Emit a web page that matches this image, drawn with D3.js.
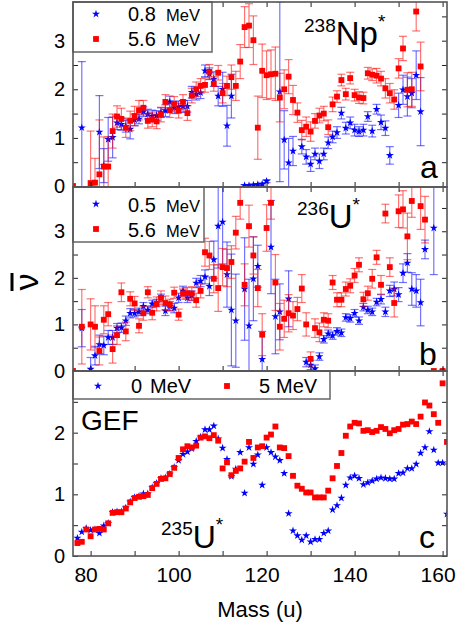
<!DOCTYPE html>
<html><head><meta charset="utf-8">
<script src="https://cdn.jsdelivr.net/npm/d3@7"></script>
<style>
body{margin:0;background:#fff}
svg{display:block}
text{font-family:"Liberation Sans",Arial,sans-serif;fill:#000}
</style>
</head><body>
<svg id="chart" width="458" height="625"></svg>
<script>
// ---------- DATA: [mass, nu-bar, error] ----------
// Panel a: 238Np*
const npLow = [[78,1.21,1.36],[82,1.12,0.75],[83,0.43,0.35],[84,0.97,0.45],[85,1.01,0.42],[86,1.31,0.14],[87,1.28,0.12],[88,1.24,0.12],[89,1.18,0.2],[90,1.37,0.12],[91,1.39,0.1],[92,1.54,0.1],[93,1.49,0.1],[94,1.45,0.12],[95,1.46,0.1],[96,1.52,0.1],[97,1.56,0.12],[98,1.74,0.12],[99,1.62,0.12],[100,1.64,0.12],[101,1.65,0.12],[102,1.65,0.12],[103,1.94,0.12],[104,1.90,0.12],[105,1.93,0.12],[106,2.38,0.12],[107,2.32,0.12],[108,2.21,0.15],[109,1.86,0.2],[110,2.00,0.35],[111,1.25,0.42],[112,1.86,0.45],[115,0.02,0.02],[116,0.02,0.02],[117,0.03,0.02],[118,0.04,0.02],[119,0.05,0.02],[120,0.11,0.03],[123,1.95,1.85],[124,0.96,0.6],[125,0.49,0.5],[126,0.73,0.3],[128,0.82,0.15],[129,0.61,0.15],[130,0.46,0.15],[131,0.67,0.12],[132,0.52,0.15],[133,0.67,0.12],[134,0.90,0.12],[135,1.02,0.12],[136,1.11,0.12],[137,1.51,0.12],[138,1.20,0.12],[139,1.31,0.12],[140,1.16,0.12],[141,1.13,0.1],[142,1.16,0.12],[143,1.44,0.1],[144,1.14,0.12],[145,1.59,0.1],[146,1.32,0.15],[147,1.20,0.15],[148,0.64,0.18],[150,1.67,0.25],[151,1.99,0.3],[152,1.85,0.4],[153,1.92,0.3],[154,2.29,0.5],[155,1.54,0.7]];
const npHigh = [[76,0.01,0],[80,0.07,1.07],[81,0.08,0.5],[82,0.25,1.12],[83,0.41,0.61],[84,0.41,0.61],[85,1.14,0.35],[86,1.44,0.22],[87,1.39,0.22],[88,1.21,0.2],[89,1.35,0.2],[90,1.45,0.2],[91,1.57,0.2],[92,1.62,0.15],[93,1.35,0.15],[94,1.38,0.15],[95,1.34,0.15],[96,1.48,0.15],[97,1.74,0.15],[98,1.57,0.15],[99,1.70,0.15],[100,1.56,0.15],[101,1.74,0.15],[102,1.51,0.15],[103,1.87,0.15],[104,2.00,0.15],[105,2.07,0.15],[106,2.09,0.15],[107,2.36,0.15],[108,2.11,0.15],[109,2.34,0.15],[110,1.92,0.2],[111,2.07,0.2],[112,2.25,0.25],[113,2.07,0.3],[114,2.57,0.35],[115,3.28,0.42],[116,3.31,0.45],[117,3.01,0.5],[118,1.21,0.65],[119,2.38,0.55],[120,2.29,0.5],[121,2.31,0.5],[122,2.32,0.55],[123,1.83,0.5],[124,2.00,0.4],[125,2.26,0.35],[126,1.78,0.3],[127,1.52,0.2],[128,1.16,0.2],[129,1.23,0.2],[130,1.13,0.2],[131,1.35,0.15],[132,1.46,0.15],[133,1.50,0.15],[134,1.22,0.15],[135,1.69,0.15],[136,1.85,0.12],[137,2.19,0.12],[138,1.90,0.12],[139,2.23,0.12],[140,1.88,0.12],[141,1.83,0.12],[142,1.82,0.12],[143,2.33,0.12],[144,2.30,0.12],[145,2.28,0.15],[146,2.22,0.15],[147,2.02,0.2],[148,1.92,0.2],[149,1.79,0.2],[150,2.43,0.2],[151,2.84,0.25],[152,1.99,0.35],[153,2.00,0.35],[154,3.60,0.4],[155,2.47,0.5]];
// Panel b: 236U*
const uLow = [[78,0.92,0.4],[80,0.04,0.25],[81,0.33,0.2],[82,0.57,0.2],[83,0.55,0.2],[84,0.72,0.15],[85,0.72,0.15],[86,0.92,0.1],[87,0.93,0.1],[88,1.08,0.1],[89,1.24,0.1],[90,1.24,0.08],[91,1.27,0.08],[92,1.39,0.08],[93,1.31,0.08],[94,1.44,0.08],[95,1.46,0.08],[96,1.57,0.08],[97,1.29,0.1],[98,1.39,0.1],[99,1.35,0.1],[100,1.57,0.1],[101,1.72,0.1],[102,1.57,0.1],[103,1.62,0.1],[104,1.89,0.1],[105,1.93,0.12],[106,2.02,0.15],[107,1.82,0.2],[108,2.39,0.4],[109,3.11,0.9],[110,3.20,0.9],[111,2.07,0.7],[112,1.31,1.2],[113,1.08,1.0],[115,1.76,1.1],[116,0.97,1.0],[117,1.98,0.9],[118,2.25,0.45],[119,0.25,0.6],[121,2.66,1.0],[122,1.17,0.8],[123,1.27,0.6],[125,1.55,0.6],[129,0.19,0.1],[130,0.13,0.1],[131,0.05,0.08],[132,0.31,0.08],[133,0.68,0.08],[134,0.80,0.08],[135,0.76,0.08],[136,0.85,0.08],[137,0.82,0.08],[138,1.15,0.08],[139,1.13,0.08],[140,1.24,0.08],[141,1.08,0.08],[142,1.37,0.08],[143,1.31,0.08],[144,1.27,0.08],[145,1.48,0.08],[146,1.54,0.1],[147,1.27,0.1],[148,1.72,0.12],[149,1.76,0.15],[150,1.64,0.15],[151,2.10,0.2],[152,2.32,0.2],[153,1.76,0.35],[154,1.72,0.35],[155,1.47,0.5],[156,2.61,0.2],[158,3.07,1.0],[160,0.0,0]];
const uHigh = [[76,0.0,0],[78,0.95,0.8],[80,1.0,0.55],[81,0.95,0.45],[82,0.43,0.3],[83,1.10,0.3],[84,1.22,0.25],[85,0.47,0.3],[86,0.77,0.2],[87,1.69,0.2],[88,0.85,0.2],[89,1.55,0.15],[90,1.45,0.15],[91,0.97,0.15],[92,1.24,0.15],[93,1.69,0.12],[94,1.25,0.15],[95,1.44,0.15],[96,1.57,0.15],[97,1.46,0.15],[98,1.42,0.12],[99,1.68,0.12],[100,1.21,0.12],[101,1.66,0.12],[102,1.67,0.12],[103,1.66,0.15],[104,1.52,0.15],[105,1.72,0.15],[106,2.55,0.3],[107,2.48,0.3],[108,1.98,0.3],[109,1.78,0.5],[110,2.23,0.4],[111,2.21,0.4],[112,2.34,0.35],[113,2.97,0.35],[114,3.61,0.35],[115,1.85,0.45],[116,3.11,0.45],[117,2.48,0.4],[118,1.78,0.4],[119,0.78,0.45],[120,3.07,0.5],[121,3.61,0.35],[122,1.90,0.6],[123,0.95,0.5],[124,1.12,0.4],[125,1.24,0.4],[126,1.19,0.3],[127,1.33,0.25],[128,1.77,0.3],[129,1.00,0.25],[130,0.26,0.15],[131,0.92,0.2],[132,0.83,0.2],[133,1.10,0.15],[134,1.08,0.15],[135,1.90,0.15],[136,1.53,0.15],[137,1.53,0.15],[138,1.76,0.15],[139,1.83,0.15],[140,2.05,0.15],[141,2.28,0.15],[142,1.54,0.15],[143,1.67,0.15],[144,1.98,0.2],[145,2.44,0.15],[146,1.85,0.2],[147,3.38,0.2],[148,2.23,0.2],[149,1.46,0.3],[150,3.43,0.35],[151,3.47,0.4],[152,2.89,0.5],[153,3.65,0.35],[155,3.54,0.5],[156,3.25,0.5],[158,0.0,0],[160,0.0,0]];
// Panel c: GEF 235U*
const gefMass = [77,78,79,80,81,82,83,84,85,86,87,88,89,90,91,92,93,94,95,96,97,98,99,100,101,102,103,104,105,106,107,108,109,110,111,112,113,114,115,116,117,118,119,120,121,122,123,124,125,126,127,128,129,130,131,132,133,134,135,136,137,138,139,140,141,142,143,144,145,146,147,148,149,150,151,152,153,154,155,156,157,158,159,160,161];
const gef0 = [0.29,0.39,0.45,0.42,0.43,0.37,0.49,0.53,0.71,0.72,0.72,0.78,0.88,0.95,0.97,1.01,1.01,1.11,1.18,1.26,1.27,1.33,1.44,1.55,1.65,1.69,1.74,1.86,1.93,2.05,2.05,2.11,1.90,1.75,1.57,1.29,1.41,1.68,1.02,1.76,1.49,1.64,1.15,1.76,1.68,1.61,1.55,1.34,0.69,0.41,0.33,0.26,0.33,0.23,0.27,0.27,0.37,0.41,0.75,0.82,0.94,1.15,1.27,1.30,1.26,1.16,1.19,1.22,1.25,1.27,1.26,1.25,1.25,1.34,1.35,1.42,1.42,1.49,1.67,1.76,2.02,1.72,1.51,1.51,0.68];
const gef5 = [0.21,0.23,0.43,0.32,0.43,0.44,0.43,0.53,0.70,0.71,0.71,0.77,0.87,0.94,0.96,0.97,0.99,1.10,1.17,1.25,1.26,1.33,1.43,1.59,1.73,1.78,1.76,1.79,1.92,1.94,1.91,1.96,1.87,1.42,1.52,1.31,1.38,1.42,1.53,1.85,1.59,1.76,1.78,1.92,1.97,2.10,1.76,1.75,1.62,1.30,1.14,1.09,1.03,1.03,0.95,0.95,0.95,1.06,1.26,1.46,1.67,1.95,2.10,2.16,2.15,2.03,2.04,2.01,2.03,2.09,2.06,1.99,2.04,2.06,2.13,2.14,2.18,2.14,2.26,2.49,2.44,2.30,2.16,2.80,1.85];
const xTicks = [80,90,100,110,120,130,140,150,160];
const xLabels = [80,100,120,140,160];

// ---------- DRAW ----------
const svg = d3.select("#chart");
const X0 = 73, X1 = 447;
const x = d3.scaleLinear().domain([76,161]).range([X0,X1]);
const BLUE = "#0000ff", RED = "#ff0000";
const star = d3.symbol().type(d3.symbolStar).size(20)();
const square = d3.symbol().type(d3.symbolSquare).size(34)();

const panels = [
  {key:"a", y:d3.scaleLinear().domain([0,3.8]).range([186.5,1.8]), top:2, bot:187, maxTick:3.5, labels:[0,1,2,3]},
  {key:"b", y:d3.scaleLinear().domain([0,3.95]).range([371,187]), top:187, bot:371, maxTick:3.5, labels:[0,1,2,3]},
  {key:"c", y:d3.scaleLinear().domain([0,3]).range([556,371]), top:371, bot:556, maxTick:2.5, labels:[0,1,2]}
];

const defs = svg.append("defs");
panels.forEach(p=>{
  defs.append("clipPath").attr("id","clip"+p.key).append("rect")
    .attr("x",X0).attr("y",p.top).attr("width",X1-X0).attr("height",p.bot-p.top);
});

function drawErr(g, y, data, color){
  const eb = g.append("g").attr("stroke",color).attr("stroke-width",1.2).attr("stroke-opacity",0.55).attr("fill","none");
  data.filter(d=>d[2]>0).forEach(d=>{
    const cx = x(d[0]), ya = y(d[1]-d[2]), yb = y(d[1]+d[2]);
    eb.append("line").attr("x1",cx).attr("x2",cx).attr("y1",ya).attr("y2",yb);
    eb.append("line").attr("x1",cx-4).attr("x2",cx+4).attr("y1",ya).attr("y2",ya);
    eb.append("line").attr("x1",cx-4).attr("x2",cx+4).attr("y1",yb).attr("y2",yb);
  });
}
function drawMarks(g, y, data, color, shape){
  g.append("g").selectAll("path").data(data).join("path")
    .attr("d",shape).attr("fill",color)
    .attr("transform",d=>`translate(${x(d[0])},${y(d[1])})`);
}

// panel a & b data
[[panels[0], npLow, npHigh],[panels[1], uLow, uHigh]].forEach(([p,lo,hi])=>{
  const g = svg.append("g").attr("clip-path",`url(#clip${p.key})`);
  drawErr(g,p.y,lo,BLUE);
  drawMarks(g,p.y,lo,BLUE,star);
  drawErr(g,p.y,hi,RED);
  drawMarks(g,p.y,hi,RED,square);
});
// panel c
{
  const p = panels[2];
  const g = svg.append("g").attr("clip-path","url(#clipc)");
  const d0 = gefMass.map((m,i)=>[m,gef0[i]]);
  const d5 = gefMass.map((m,i)=>[m,gef5[i]]);
  drawMarks(g,p.y,d0,BLUE,star);
  drawMarks(g,p.y,d5,RED,square);
}

// axes & frames
panels.forEach(p=>{
  const ticksY = d3.range(0,p.maxTick+0.01,0.5);
  const styleAxis = sel=>{
    sel.select(".domain").remove();
    sel.selectAll(".tick line").attr("stroke","#222").attr("stroke-width",1);
    sel.selectAll("text").attr("font-family","Liberation Sans, Arial, sans-serif").attr("fill","#000");
  };
  svg.append("g").attr("transform",`translate(${X0},0)`)
    .call(d3.axisLeft(p.y).tickValues(ticksY).tickSize(-5).tickPadding(8)
      .tickFormat(d=>p.labels.includes(d)?d:""))
    .call(styleAxis).selectAll("text").attr("font-size",20);
  svg.append("g").attr("transform",`translate(${X1},0)`)
    .call(d3.axisRight(p.y).tickValues(ticksY).tickSize(-5).tickFormat(""))
    .call(styleAxis);
  svg.append("g").attr("transform",`translate(0,${p.bot})`)
    .call(d3.axisBottom(x).tickValues(xTicks).tickSize(-5).tickPadding(11)
      .tickFormat(d=>(p.key==="c" && xLabels.includes(d))?d:""))
    .call(styleAxis).selectAll("text").attr("font-size",21).attr("dx",-5);
  svg.append("g").attr("transform",`translate(0,${p.top})`)
    .call(d3.axisTop(x).tickValues(xTicks).tickSize(-5).tickFormat(""))
    .call(styleAxis);
});

// legends (white boxes)
function legendBox(x0,y0,x1,y1){
  svg.append("rect").attr("x",x0).attr("y",y0).attr("width",x1-x0).attr("height",y1-y0)
    .attr("fill","#fff").attr("stroke","#666").attr("stroke-width",1.5);
}
function legItem(sx,sy,shape,color,tx,ty,num,unit,numSize,unitSize,unitX){
  svg.append("path").attr("d",shape).attr("fill",color).attr("transform",`translate(${sx},${sy})`);
  const t = svg.append("text").attr("x",tx).attr("y",ty);
  t.append("tspan").attr("font-size",numSize).text(num);
  t.append("tspan").attr("x",unitX).attr("font-size",unitSize).text(unit);
}
legendBox(73,2,212,52);
legItem(96,14,star,BLUE,128,21,"0.8","MeV",20,16.5,166);
legItem(96,39,square,RED,128,46,"5.6","MeV",20,16.5,166);
legendBox(73,187,204,242);
legItem(96,204,star,BLUE,128,212,"0.5","MeV",20,16.5,166);
legItem(96,229,square,RED,128,237,"5.6","MeV",20,16.5,166);
legendBox(73,371,330,399);
legItem(98,386,star,BLUE,131,393,"0","MeV",20,20,150);
legItem(227,386,square,RED,259,393,"5","MeV",20,20,276);

// frames
panels.forEach(p=>{
  svg.append("rect").attr("x",X0).attr("y",p.top).attr("width",X1-X0).attr("height",p.bot-p.top)
    .attr("fill","none").attr("stroke","#555").attr("stroke-width",1.6);
});

// nuclide labels
function nucl(xs, base, sup, main, supSize, mainSize){
  const t = svg.append("text").attr("x",xs).attr("y",base);
  t.append("tspan").attr("font-size",supSize).attr("dy",-13).text(sup);
  t.append("tspan").attr("font-size",mainSize).attr("dy",13).text(main);
  t.append("tspan").attr("font-size",supSize).attr("dy",-17).text("*");
}
nucl(304,45,"238","Np",19,33);
nucl(297,228,"236","U",19,33);
nucl(161,548,"235","U",19,32);
svg.append("text").attr("x",81).attr("y",430).attr("font-size",28).text("GEF");
svg.append("text").attr("x",420).attr("y",178).attr("font-size",32).text("a");
svg.append("text").attr("x",419).attr("y",365).attr("font-size",32).text("b");
svg.append("text").attr("x",419).attr("y",548).attr("font-size",32).text("c");

// axis titles
svg.append("text").attr("x",260).attr("y",617).attr("text-anchor","middle").attr("font-size",22).text("Mass (u)");
const yl = svg.append("g").attr("transform","translate(38,282) rotate(-90)");
yl.append("text").attr("x",0).attr("y",0).attr("text-anchor","middle").attr("font-size",34).text("ν");
yl.append("line").attr("x1",-9).attr("x2",9).attr("y1",-26).attr("y2",-26).attr("stroke","#000").attr("stroke-width",3);
</script>
</body></html>
